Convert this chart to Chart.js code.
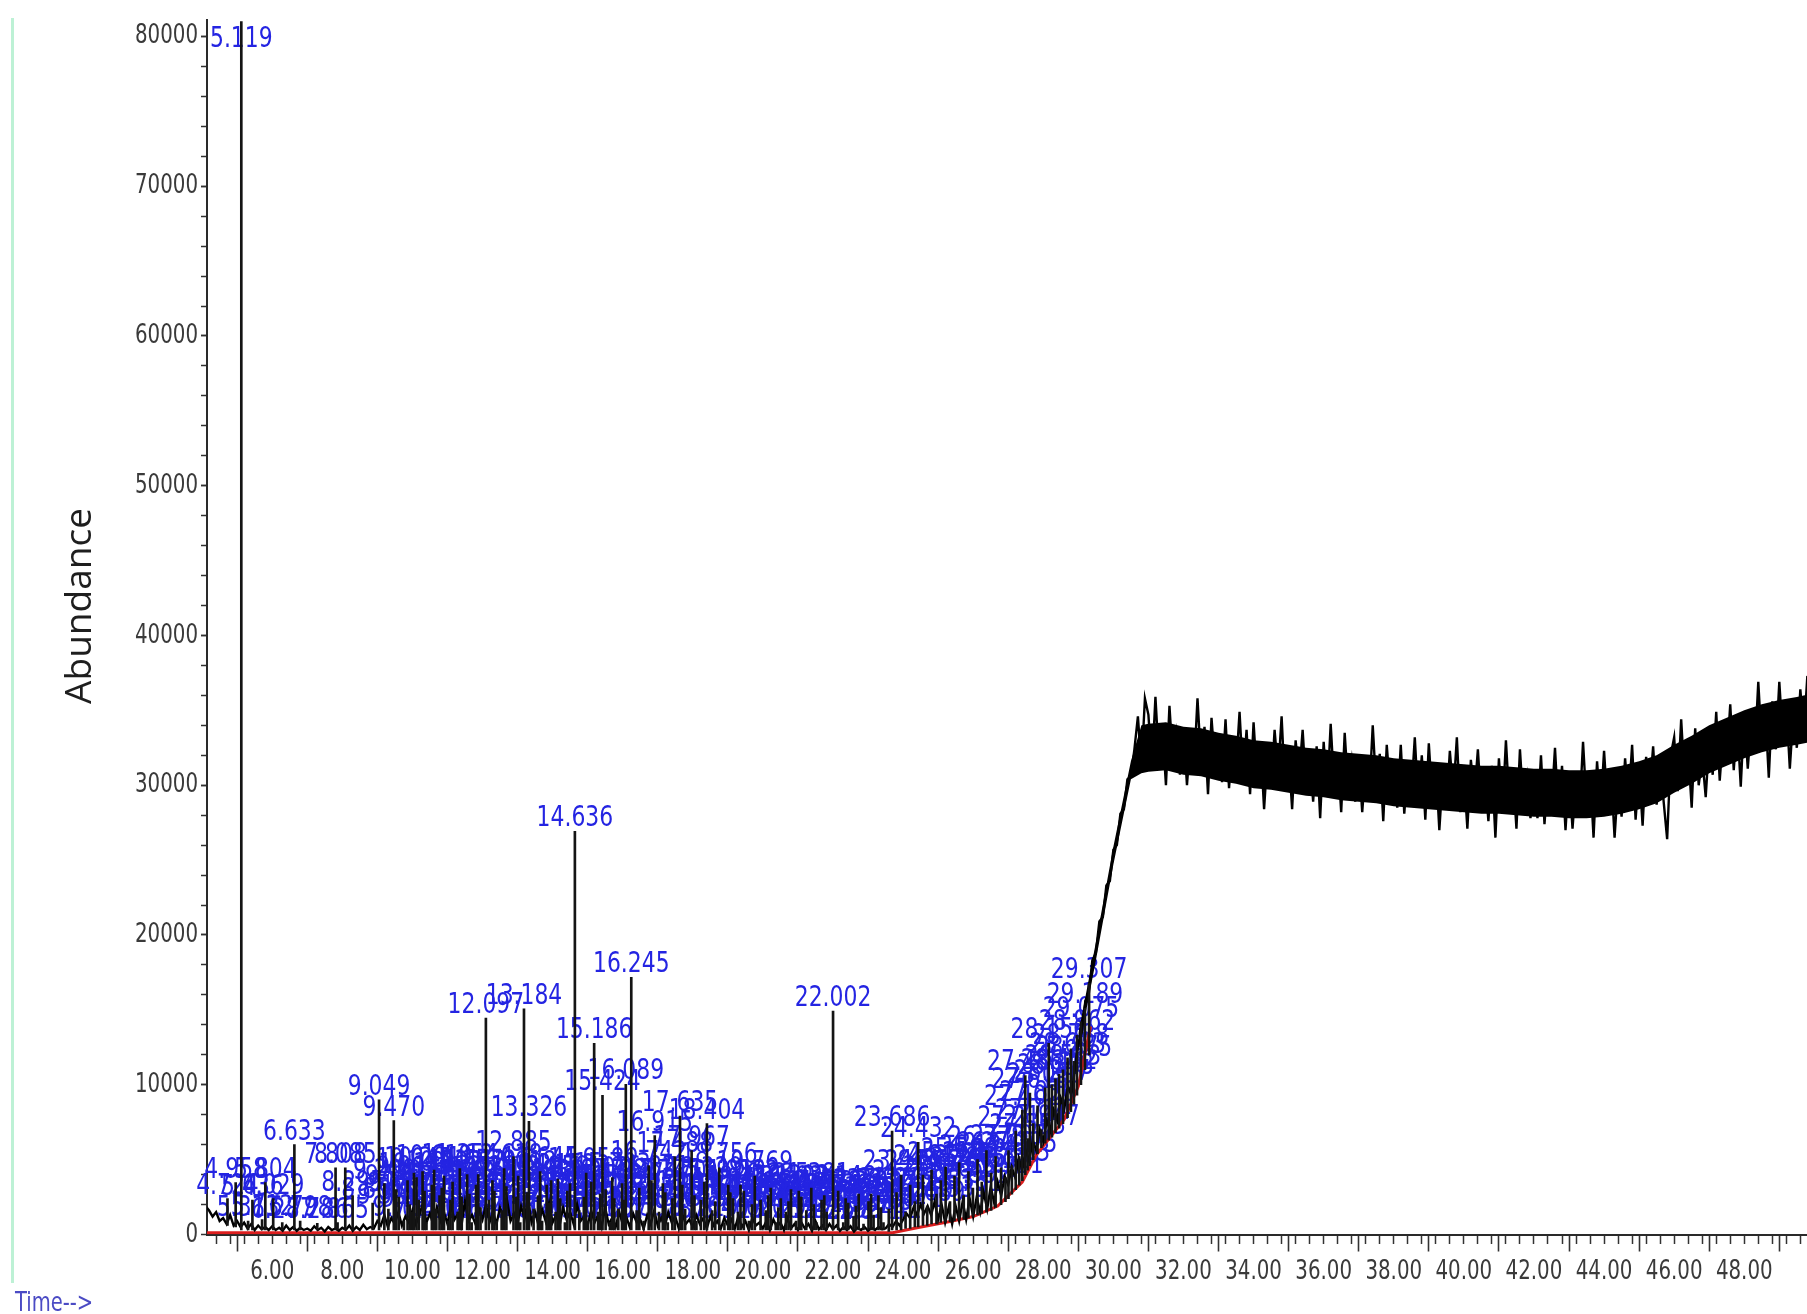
<!DOCTYPE html>
<html>
<head>
<meta charset="utf-8">
<script src="https://cdn.jsdelivr.net/npm/chart.js@4/dist/chart.umd.min.js"></script>
<style>
html,body{margin:0;padding:0;background:#ffffff;}
#wrap{position:relative;width:1807px;height:1314px;}
canvas{display:block;}
</style>
</head>
<body>
<div id="wrap"><canvas id="c" width="1807" height="1314"></canvas></div>
<script>
// ---------------- DATA ----------------
// Total ion chromatogram, sampled every 0.1 min starting at 4.1 min
const traceStart = 4.1;
const traceStep = 0.1;
const traceValues = [
  1900, 1600, 1200, 1500, 900, 1100, 700, 1300, 600,
  900, 500, 800, 400, 700, 300, 600, 350, 500, 300,
  550, 300, 450, 250, 600, 300, 500, 250, 450, 300,
  400, 250, 550, 300, 450, 200, 500, 300, 400, 250,
  450, 300, 600, 250, 500, 300, 650, 350, 500, 400,
  900, 600, 1300, 500, 1100, 700, 1500, 600, 1200, 800,
  1600, 700, 1300, 2100, 800, 1400, 600, 1800, 900, 1500,
  700, 1900, 1000, 1400, 600, 2200, 900, 1300, 700, 1700,
  1000, 2000, 800, 1500, 700, 1800, 1100, 2300, 900, 1400,
  700, 1900, 1000, 2400, 800, 1500, 600, 1700, 900, 2100,
  800, 1300, 600, 1800, 1000, 1500, 700, 2000, 900, 1200,
  600, 1600, 800, 1300, 500, 1800, 700, 1100, 500, 1500,
  700, 1200, 500, 1400, 800, 1000, 400, 1300, 700, 1600,
  600, 1100, 500, 1500, 800, 1200, 400, 1400, 700, 1000,
  500, 1300, 700, 1100, 400, 1200, 600, 900, 400, 1100,
  600, 1000, 400, 1200, 500, 900, 300, 1100, 600, 800,
  400, 900, 300, 1000, 500, 800, 300, 1100, 400, 700,
  300, 800, 400, 700, 250, 900, 350, 600, 300, 700,
  350, 600, 250, 500, 300, 550, 200, 450, 300, 500,
  250, 450, 300, 500, 350, 400, 700, 500, 900, 600,
  1000, 1400, 1100, 1800, 1300, 2000, 1400, 1900, 1300, 2200,
  1000, 2000, 800, 1800, 700, 1900, 900, 2200, 1000, 2400,
  1200, 2500, 1500, 2800, 1700, 3200, 2100, 3500, 2600, 3900,
  3300, 4500, 3800, 5100, 4300, 5600, 4900, 6300, 5600, 7000,
  6200, 7600, 6900, 8300, 7600, 9100, 8400, 9900, 9300, 11000,
  12800, 13500, 15600, 16100, 18300, 18800, 20900, 21200, 23300, 23600,
  25700, 26000, 28100, 28400, 30400, 30600, 32400, 34600, 31200, 35800,
  34700, 31100, 35900, 31700, 33800, 30000, 35300, 31500, 33400, 30700,
  33700, 30000, 33200, 31100, 35800, 31600, 33900, 29400, 34500, 31300,
  32500, 30200, 34400, 29800, 33000, 31100, 34900, 30500, 33700, 29400,
  34200, 30400, 32700, 28400, 32100, 29800, 33700, 30800, 34600, 29600,
  32100, 28400, 33000, 30600, 33700, 29800, 32000, 28900, 32600, 27800,
  32900, 29300, 34100, 29900, 32000, 28200, 33500, 29700, 31600, 28900,
  31900, 28200, 31400, 29300, 34000, 29800, 32100, 27600, 32700, 29500,
  30800, 28500, 32700, 28100, 31300, 29400, 33200, 28800, 32000, 27700,
  32800, 29000, 31300, 27000, 30700, 28400, 32300, 29400, 33200, 28200,
  30800, 27100, 31700, 29300, 32400, 28500, 30700, 27600, 31300, 26500,
  31800, 28200, 33000, 28800, 30900, 27100, 32400, 28600, 30500, 27800,
  30100, 27800, 32000, 27400, 30600, 28700, 32500, 28100, 31300, 27000,
  30800, 27100, 30300, 28200, 32900, 28700, 31000, 26500, 31600, 28400,
  32300, 28500, 30800, 26500, 30200, 27900, 31800, 28900, 32700, 27700,
  31000, 27300, 31900, 29500, 32600, 28700, 31700, 28900, 26400, 32000,
  33200, 29600, 34400, 30200, 32300, 28500, 33800, 30000, 31900, 29200,
  33000, 30700, 34900, 30300, 33500, 31600, 35400, 31000, 34200, 29900,
  34800, 31100, 34300, 32200, 36900, 32700, 35000, 30500, 35600, 32400,
  36900, 33100, 35400, 31100, 34800, 32500, 36400, 33500, 37300, 32300
];

// Dense core of the noisy signal (upper / lower edges of the solid band)
const bandTimes = [29.0, 29.5, 30.0, 30.5, 30.8, 31.0, 31.5, 32.0, 32.5, 33.0, 33.5, 34.0, 34.5, 35.0, 35.5,
  36.0, 36.5, 37.0, 37.5, 38.0, 38.5, 39.0, 39.5, 40.0, 40.5, 41.0, 41.5, 42.0, 42.5, 43.0, 43.5, 44.0,
  44.5, 45.0, 45.5, 46.0, 46.5, 47.0, 47.5, 48.0, 48.5, 49.0, 49.5, 49.9];
const bandUpper = [13400, 19500, 25900, 31600, 34000, 34100, 34200, 33900, 33800, 33500, 33300, 33000, 32900, 32700, 32500,
  32400, 32200, 32100, 32000, 31800, 31700, 31600, 31500, 31400, 31300, 31300, 31200, 31100, 31100, 31000, 31000, 31100,
  31300, 31600, 32000, 32700, 33300, 34000, 34500, 35000, 35400, 35700, 35900, 36100];
const bandLower = [12200, 18300, 24700, 30400, 30800, 30900, 31000, 30700, 30600, 30300, 30100, 29800, 29700, 29500, 29300,
  29200, 29000, 28900, 28800, 28600, 28500, 28400, 28300, 28200, 28100, 28100, 28000, 27900, 27900, 27800, 27800, 27900,
  28100, 28400, 28800, 29500, 30100, 30800, 31300, 31800, 32200, 32500, 32700, 32900];

// Integration baseline (red)
const baselineTimes  = [4.1, 23.7, 24.4, 25.3, 26.0, 26.7, 27.4, 27.8, 28.6, 29.0, 29.35];
const baselineValues = [120, 120, 450, 850, 1200, 1900, 3500, 5300, 7700, 9900, 13900];

// Labelled peaks: retention time, apex abundance, start (base) abundance
const peakTimes = [
  4.724, 4.958, 5.119, 5.313, 5.436, 5.712, 5.804, 6.029, 6.287, 6.633,
  6.798, 7.286, 7.808, 7.865, 8.085, 8.295, 8.866, 9.049, 9.200, 9.315,
  9.470, 9.612, 9.758, 9.862, 9.994, 10.045, 10.183, 10.291, 10.402, 10.556,
  10.683, 10.774, 10.902, 11.023, 11.147, 11.291, 11.408, 11.562, 11.690, 11.815,
  11.944, 12.097, 12.183, 12.283, 12.406, 12.547, 12.682, 12.885, 12.961, 13.077,
  13.184, 13.326, 13.458, 13.582, 13.701, 13.830, 13.959, 14.085, 14.219, 14.352,
  14.497, 14.636, 14.762, 14.891, 15.012, 15.103, 15.186, 15.298, 15.424, 15.513,
  15.637, 15.760, 15.874, 15.981, 16.089, 16.245, 16.398, 16.598, 16.742, 16.915,
  17.036, 17.145, 17.287, 17.418, 17.488, 17.635, 17.782, 17.967, 18.104, 18.231,
  18.404, 18.552, 18.756, 18.903, 19.012, 19.148, 19.289, 19.456, 19.602, 19.769,
  19.934, 20.081, 20.225, 20.367, 20.512, 20.658, 20.803, 20.947, 21.096, 21.238,
  21.381, 21.526, 21.674, 21.819, 22.002, 22.148, 22.293, 22.435, 22.587, 22.733,
  22.871, 23.014, 23.158, 23.297, 23.441, 23.592, 23.686, 23.815, 23.944, 24.071,
  24.203, 24.336, 24.432, 24.567, 24.689, 24.812, 24.953, 25.076, 25.214, 25.339,
  25.467, 25.598, 25.731, 25.865, 25.992, 26.124, 26.245, 26.378, 26.512, 26.640,
  26.795, 26.921, 27.007, 27.103, 27.214, 27.315, 27.402, 27.486, 27.553, 27.618,
  27.714, 27.836, 27.947, 28.056, 28.156, 28.247, 28.348, 28.452, 28.563, 28.693,
  28.788, 28.875, 28.962, 29.075, 29.189, 29.307,
  9.541, 9.925, 10.118, 10.347, 10.619, 10.838, 11.085, 11.354, 11.627, 11.879,
  12.341, 12.618, 13.018, 13.263, 13.645, 13.894, 14.152, 14.421, 14.958, 15.357,
  15.703, 16.032, 16.475, 16.821, 17.214, 17.701, 18.047, 18.329, 18.641, 19.071,
  19.362, 19.688, 20.152, 20.439, 20.731, 21.024, 21.453, 21.752, 22.361, 22.652,
  23.087, 23.371
];
const peakApex = [
  2400, 3470, 81000, 900, 2300, 1000, 3470, 2400, 800, 6000,
  900, 750, 4450, 800, 4450, 2600, 2100, 9000, 3400, 1700,
  7600, 2500, 900, 3600, 1500, 4100, 2300, 4200, 800, 3300,
  1700, 2600, 3900, 900, 3500, 1500, 2500, 4000, 800, 3300,
  1800, 14460, 2300, 3600, 900, 1600, 3200, 5210, 2500, 800,
  15070, 7550, 1700, 2600, 900, 3300, 3600, 1500, 2400, 800,
  3400, 26920, 1600, 2500, 900, 3500, 12760, 1500, 9290, 3000,
  800, 2400, 1700, 3400, 10020, 17170, 1600, 900, 4600, 6600,
  1500, 3400, 800, 2400, 5200, 7900, 1700, 5600, 900, 2300,
  7400, 1600, 4450, 800, 3300, 2400, 1500, 2900, 900, 3900,
  2300, 1600, 3100, 800, 2400, 1500, 3000, 900, 2500, 1600,
  3100, 800, 2300, 1500, 14920, 2900, 800, 2100, 1200, 2700,
  700, 2200, 1300, 2600, 800, 1700, 6910, 2800, 3960, 1500,
  3300, 2200, 6150, 3960, 1900, 4300, 2700, 3600, 4500, 2200,
  3900, 4800, 2600, 4200, 3100, 5000, 3500, 5600, 4100, 5200,
  4450, 3800, 5610, 4600, 6910, 5200, 8300, 10620, 6400, 9450,
  7400, 8600, 7000, 9800, 12760, 10000, 10400, 10700, 11000, 11800,
  12400, 11560, 13300, 14200, 15100, 16770,
  3000, 2000, 3800, 2900, 4300, 3100, 2300, 4400, 2700, 4000,
  2900, 4400, 3900, 2800, 4200, 2100, 3700, 2900, 4100, 2700,
  3800, 2300, 3100, 3600, 2800, 3300, 2600, 3500, 2200, 2800,
  3300, 2000, 2600, 1800, 2200, 2900, 2000, 2600, 2400, 1900,
  2700, 1800
];
const peakBase = [
  600, 500, 300, 300, 300, 300, 300, 300, 300, 300,
  300, 300, 300, 300, 300, 300, 300, 300, 300, 300,
  300, 300, 300, 300, 300, 300, 300, 300, 300, 300,
  300, 300, 300, 300, 300, 300, 300, 300, 300, 300,
  300, 300, 300, 300, 300, 300, 300, 300, 300, 300,
  300, 300, 300, 300, 300, 300, 300, 300, 300, 300,
  300, 300, 300, 300, 300, 300, 300, 300, 300, 300,
  300, 300, 300, 300, 300, 300, 300, 300, 300, 300,
  300, 300, 300, 300, 300, 300, 300, 300, 300, 300,
  300, 300, 300, 300, 300, 300, 300, 300, 300, 300,
  300, 300, 300, 300, 300, 300, 300, 300, 300, 300,
  300, 300, 300, 300, 300, 300, 300, 300, 300, 300,
  300, 300, 300, 300, 300, 200, 300, 300, 300, 400,
  400, 500, 500, 600, 600, 700, 700, 800, 800, 850,
  900, 950, 1000, 1100, 1200, 1300, 1400, 1500, 1600, 1800,
  2000, 2200, 2400, 2700, 3000, 3300, 3600, 4000, 4300, 4600,
  5000, 5400, 5800, 6100, 6300, 6500, 6800, 7100, 7400, 7800,
  8200, 8700, 9300, 10000, 11000, 12000,
  300, 300, 300, 300, 300, 300, 300, 300, 300, 300,
  300, 300, 300, 300, 300, 300, 300, 300, 300, 300,
  300, 300, 300, 300, 300, 300, 300, 300, 300, 300,
  300, 300, 300, 300, 300, 300, 300, 300, 300, 300,
  300, 300
];

// Tick labels
const xTickLabels = ['6.00','8.00','10.00','12.00','14.00','16.00','18.00','20.00','22.00','24.00','26.00',
  '28.00','30.00','32.00','34.00','36.00','38.00','40.00','42.00','44.00','46.00','48.00'];
const yTickLabels = ['0','10000','20000','30000','40000','50000','60000','70000','80000'];
const yTitle = 'Abundance';
const xTitle = 'Time-->';

// ---------------- STYLE ----------------
const NARROW = '"Liberation Sans Narrow", "Arial Narrow", "DejaVu Sans Condensed", "Liberation Sans", sans-serif';
const LABEL_SIZE = 29;
const LABEL_DIGIT = 0.48;
const AXIS_SIZE = 27;
const AXIS_DIGIT = 0.467;
const LABEL_COLOR = 'rgb(36,36,226)';
const AXIS_TEXT = '#3a3a3a';
const X_MIN = 4.140, X_MAX = 49.79, Y_MIN = 0, Y_MAX = 81100;
const X_MINOR = 0.4, Y_MINOR = 2000;

const tracePoints = traceValues.map((v, i) => ({ x: +(traceStart + i * traceStep).toFixed(2), y: v }));
const bandUpperPoints = bandTimes.map((t, i) => ({ x: t, y: bandUpper[i] }));
const bandLowerPoints = bandTimes.map((t, i) => ({ x: t, y: bandLower[i] }));
const baselinePoints = baselineTimes.map((t, i) => ({ x: t, y: baselineValues[i] }));
const stickPoints = peakTimes.map((t, i) => ({ x: t, y: [peakBase[i], peakApex[i]] }));

function minorTicks(min, max, step) {
  const out = [];
  for (let k = Math.ceil(min / step + 1e-9); k * step <= max + 1e-9; k++) out.push({ value: +(k * step).toFixed(4) });
  return out;
}

function squeezeFor(ctx, size, digit) {
  ctx.save();
  ctx.font = size + 'px ' + NARROW;
  const w = ctx.measureText('00000').width;
  ctx.restore();
  return (digit * size * 5) / w;
}

const decor = {
  id: 'decor',
  beforeDraw(chart) {
    const c = chart.ctx;
    c.save();
    c.fillStyle = '#bdf1d5';
    c.fillRect(11, 18, 3, 1265);
    c.restore();
    // axis numbers are drawn by Chart.js; give them the narrow look of the original
    if (!c._origFillText) {
      const orig = c.fillText;
      c._origFillText = orig;
      c.fillText = function (text, x, y, maxWidth) {
        if (this._squeeze && typeof text === 'string' && /^[0-9.]+$/.test(text)) {
          this.save();
          this.translate(x, y);
          this.scale(this._squeeze, 1);
          orig.call(this, text, 0, 0);
          this.restore();
        } else if (maxWidth !== undefined) {
          orig.call(this, text, x, y, maxWidth);
        } else {
          orig.call(this, text, x, y);
        }
      };
    }
    c._squeeze = squeezeFor(c, AXIS_SIZE, AXIS_DIGIT);
  },
  beforeDatasetsDraw(chart) {
    const c = chart.ctx, xs = chart.scales.x, ys = chart.scales.y, area = chart.chartArea;
    c._squeeze = 0;
    const sx = squeezeFor(c, LABEL_SIZE, LABEL_DIGIT);
    c.save();
    c.font = LABEL_SIZE + 'px ' + NARROW;
    c.fillStyle = LABEL_COLOR;
    c.textAlign = 'center';
    c.textBaseline = 'alphabetic';
    peakTimes.forEach((t, i) => {
      const px = xs.getPixelForValue(t);
      let py = ys.getPixelForValue(peakApex[i]) - 5;
      if (py < area.top + 27) py = area.top + 27;
      c.save();
      c.translate(px, py);
      c.scale(sx, 1);
      c.fillText(t.toFixed(3), 0, 0);
      c.restore();
    });
    c.restore();
  },
  afterDraw(chart) {
    const c = chart.ctx;
    c._squeeze = 0;
    // y-axis title
    c.save();
    c.font = '37px "Open Sans", "Noto Sans", sans-serif';
    c.fillStyle = '#1e1e1e';
    c.textAlign = 'center';
    c.textBaseline = 'middle';
    c.translate(80, 606);
    c.rotate(-Math.PI / 2);
    c.fillText(yTitle, 0, 0);
    c.restore();
    // x-axis caption
    const sx = squeezeFor(c, 27, 0.46);
    c.save();
    c.font = '27px ' + NARROW;
    c.fillStyle = '#4b4bc4';
    c.textAlign = 'left';
    c.textBaseline = 'alphabetic';
    c.translate(15, 1311);
    c.scale(sx, 1);
    c.fillText(xTitle, 0, 0);
    c.restore();
  }
};

new Chart(document.getElementById('c').getContext('2d'), {
  type: 'line',
  data: {
    datasets: [
      { type: 'bar', label: 'peaks', data: stickPoints, xAxisID: 'x', yAxisID: 'y',
        backgroundColor: '#141414', borderWidth: 0, barThickness: 2, grouped: false, order: 0 },
      { type: 'line', label: 'TIC', data: tracePoints, xAxisID: 'x', yAxisID: 'y',
        borderColor: '#000000', borderWidth: 2.4, pointRadius: 0, tension: 0, fill: false, order: 1 },
      { type: 'line', label: 'band upper', data: bandUpperPoints, xAxisID: 'x', yAxisID: 'y',
        borderColor: '#000000', borderWidth: 0, backgroundColor: '#000000', pointRadius: 0, tension: 0,
        fill: '+1', order: 2 },
      { type: 'line', label: 'band lower', data: bandLowerPoints, xAxisID: 'x', yAxisID: 'y',
        borderColor: '#000000', borderWidth: 0, pointRadius: 0, tension: 0, fill: false, order: 2 },
      { type: 'line', label: 'baseline', data: baselinePoints, xAxisID: 'x', yAxisID: 'y',
        borderColor: '#dc1e1e', borderWidth: 3, pointRadius: 0, tension: 0, fill: false, order: 3 }
    ]
  },
  options: {
    responsive: false,
    animation: false,
    devicePixelRatio: 1,
    layout: { padding: { left: 59, top: 20, right: 0, bottom: 0 } },
    plugins: { legend: { display: false }, tooltip: { enabled: false } },
    scales: {
      x: {
        type: 'linear', position: 'bottom', min: X_MIN, max: X_MAX, offset: false,
        afterBuildTicks: (s) => { s.ticks = xTickLabels.map(l => ({ value: Number(l) })); },
        afterFit: (s) => { s.height = 79.5; },
        grid: { drawOnChartArea: false, drawTicks: true, tickLength: 17, tickColor: '#333', tickWidth: 1.6 },
        border: { display: true, color: '#2a2a2a', width: 2 },
        ticks: {
          autoSkip: false, maxRotation: 0, padding: 4,
          color: AXIS_TEXT, font: { family: NARROW, size: AXIS_SIZE },
          callback: (v) => { const s = Number(v).toFixed(2); return xTickLabels.includes(s) ? s : ''; }
        }
      },
      x2: {
        type: 'linear', axis: 'x', position: { y: 0 }, min: X_MIN, max: X_MAX, offset: false,
        afterBuildTicks: (s) => { s.ticks = minorTicks(X_MIN, X_MAX, X_MINOR); },
        grid: { drawOnChartArea: false, drawTicks: true, tickLength: 9, tickColor: '#333', tickWidth: 1.5 },
        border: { display: false },
        ticks: { display: false, autoSkip: false }
      },
      y: {
        type: 'linear', position: 'left', min: Y_MIN, max: Y_MAX,
        afterBuildTicks: (s) => { s.ticks = yTickLabels.map(l => ({ value: Number(l) })); },
        afterFit: (s) => { s.width = 148; },
        grid: { drawOnChartArea: false, drawTicks: true, tickLength: 6, tickColor: '#333', tickWidth: 1.5 },
        border: { display: true, color: '#2a2a2a', width: 2 },
        title: { display: false, text: yTitle },
        ticks: {
          autoSkip: false, padding: 3,
          color: AXIS_TEXT, font: { family: NARROW, size: AXIS_SIZE },
          callback: (v) => { const s = String(Math.round(Number(v))); return yTickLabels.includes(s) ? s : ''; }
        }
      },
      y2: {
        type: 'linear', axis: 'y', position: { x: X_MIN }, min: Y_MIN, max: Y_MAX,
        afterBuildTicks: (s) => { s.ticks = minorTicks(Y_MIN, Y_MAX, Y_MINOR); },
        grid: { drawOnChartArea: false, drawTicks: true, tickLength: 6, tickColor: '#333', tickWidth: 1.5 },
        border: { display: false },
        ticks: { display: false, autoSkip: false }
      }
    }
  },
  plugins: [decor]
});
</script>
</body>
</html>
